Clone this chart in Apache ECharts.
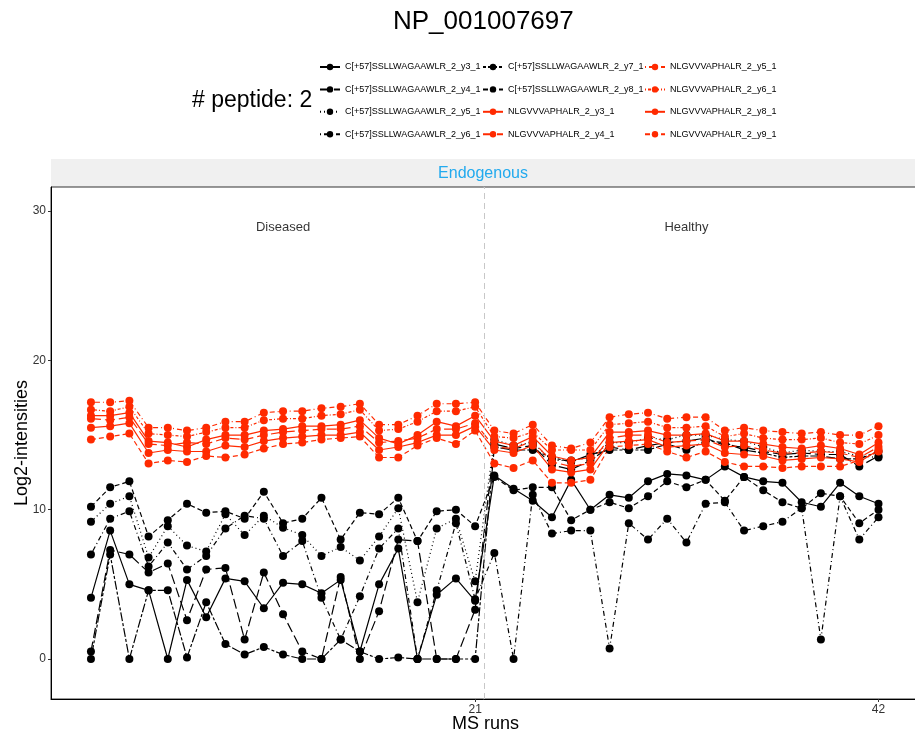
<!DOCTYPE html>
<html>
<head>
<meta charset="utf-8">
<script src="https://cdn.jsdelivr.net/npm/echarts@6/dist/echarts.min.js"></script>
<style>
  html, body { margin: 0; padding: 0; background: #fff; }
  #main { width: 915px; height: 737px; }
</style>
</head>
<body>
<div id="main"></div>
<script>
// MS runs 1..42 (21 diseased, 21 healthy)
var runs = [];
for (var i = 1; i <= 42; i++) runs.push(i);

var groups = ['Diseased', 'Healthy'];
var xTicks = [21, 42];
var yTicks = [0, 10, 20, 30];

// black: C[+57]SSLLWAGAAWLR_2 transitions
var c_y3 = [4.1, 8.6, 5.0, 4.6, 0, 5.3, 2.8, 5.4, 5.2, 3.4, 5.1, 5.0, 4.4, 5.3, 0.5, 5.0, 7.4, 0, 4.3, 5.4, 3.9,
            12.3, 11.4, 10.6, 9.5, 12.0, 10.0, 11.0, 10.8, 11.9, 12.4, 12.3, 12.0, 12.9, 12.2, 11.9, 11.8, 10.5, 10.2, 11.8, 10.9, 10.4];
var c_y4 = [0.5, 7.3, 7.0, 5.8, 6.4, 2.6, 6.0, 6.1, 1.3, 5.8, 3.0, 0.5, 0, 5.5, 0, 3.2, 8.0, 7.9, 0, 0, 3.3,
            14.4, 14.1, 14.3, 13.0, 12.7, 13.3, 14.2, 14.0, 14.3, 14.5, 14.6, 14.8, 14.3, 14.2, 13.9, 13.7, 13.8, 13.7, 13.7, 12.9, 13.6];
var c_y5 = [9.2, 10.4, 10.9, 6.8, 8.9, 7.6, 7.2, 9.7, 8.3, 9.6, 8.8, 8.3, 6.9, 7.5, 6.6, 8.2, 10.1, 3.8, 8.75, 9.4, 5.2,
            14.7, 14.3, 14.5, 13.3, 13.3, 13.5, 14.5, 14.5, 14.8, 14.7, 15.0, 15.0, 14.7, 14.6, 14.2, 13.8, 14.0, 13.9, 13.9, 13.6, 13.5];
var c_y6 = [7.0, 9.4, 9.9, 6.2, 7.8, 6.0, 6.9, 8.75, 9.6, 9.4, 6.9, 7.9, 4.1, 1.3, 4.2, 7.4, 8.75, 0, 4.6, 9.1, 4.0,
            7.1, 0, 11.0, 8.4, 8.6, 8.6, 0.7, 9.1, 8.0, 9.4, 7.8, 10.4, 10.5, 8.6, 8.9, 9.2, 10.1, 1.3, 10.9, 8.0, 9.5];
var c_y7 = [0, 7.0, 0, 4.6, 4.6, 0.1, 3.8, 1.0, 0.3, 0.8, 0.3, 0, 0, 1.3, 0.5, 0, 0.1, 0, 0, 0, 0,
            14.2, 14.0, 14.0, 13.5, 13.2, 13.7, 14.0, 14.0, 14.0, 14.4, 14.0, 14.6, 14.5, 14.0, 13.8, 13.5, 13.6, 13.6, 13.4, 13.4, 13.9];
var c_y8 = [10.2, 11.5, 11.9, 8.2, 9.3, 10.4, 9.8, 9.9, 9.4, 11.2, 9.1, 9.4, 10.8, 8.0, 9.8, 9.7, 10.8, 7.9, 9.9, 10.0, 8.9,
            12.2, 11.3, 11.5, 11.5, 9.3, 10.0, 10.5, 10.1, 10.9, 11.9, 11.5, 12.0, 10.6, 12.2, 11.3, 10.5, 10.1, 11.1, 10.9, 9.1, 10.0];

// red: NLGVVVAPHALR_2 transitions
var n_y3 = [16.3, 16.3, 16.5, 14.6, 14.5, 14.2, 14.7, 15.0, 15.0, 15.3, 15.4, 15.6, 15.6, 15.7, 16.0, 14.8, 14.4, 15.0, 15.9, 15.6, 16.3,
            14.6, 14.3, 14.9, 13.6, 13.3, 13.5, 15.2, 15.2, 15.3, 15.0, 15.0, 15.1, 14.6, 14.6, 14.4, 14.2, 14.1, 14.3, 14.1, 13.7, 14.5];
var n_y4 = [16.1, 16.0, 16.2, 14.4, 14.3, 14.5, 14.4, 14.8, 14.7, 15.0, 15.2, 15.3, 15.4, 15.4, 15.6, 14.5, 14.6, 14.8, 15.4, 15.4, 15.8,
            14.2, 14.1, 14.6, 13.2, 12.9, 13.1, 14.8, 15.0, 15.0, 14.5, 14.6, 14.7, 14.2, 14.3, 14.0, 13.8, 13.8, 13.9, 13.8, 13.5, 14.2];
var n_y5 = [17.2, 17.2, 17.3, 15.5, 15.5, 15.3, 15.5, 15.9, 15.9, 16.5, 16.6, 16.6, 16.8, 16.9, 17.1, 15.7, 15.7, 16.3, 17.1, 17.1, 17.2,
            15.3, 15.1, 15.7, 14.3, 14.1, 14.5, 16.2, 16.4, 16.5, 16.1, 16.2, 16.2, 15.3, 15.5, 15.3, 15.2, 15.1, 15.2, 15.0, 15.0, 15.6];
var n_y6 = [16.7, 16.6, 16.9, 15.1, 15.0, 14.9, 15.2, 15.5, 15.5, 16.0, 16.1, 16.1, 16.3, 16.4, 16.7, 15.3, 15.4, 15.9, 16.6, 16.6, 16.9,
            14.9, 14.8, 15.2, 14.0, 14.0, 14.0, 15.7, 15.8, 15.9, 15.5, 15.5, 15.6, 14.9, 15.1, 14.8, 14.7, 14.7, 14.8, 14.5, 14.4, 15.0];
var n_y8 = [15.5, 15.6, 15.8, 13.8, 14.0, 13.9, 13.9, 14.3, 14.2, 14.6, 14.8, 14.9, 15.0, 15.0, 15.2, 14.0, 14.2, 14.5, 15.0, 15.0, 15.6,
            14.0, 13.8, 14.3, 12.7, 12.5, 12.7, 14.5, 14.6, 14.7, 14.2, 14.3, 14.4, 13.8, 13.7, 13.6, 13.3, 13.4, 13.5, 13.4, 13.2, 14.0];
var n_y9 = [14.7, 14.9, 15.1, 13.1, 13.3, 13.2, 13.6, 13.5, 13.7, 14.1, 14.4, 14.5, 14.7, 14.8, 14.9, 13.5, 13.5, 14.3, 14.8, 14.4, 15.3,
            13.1, 12.8, 13.3, 11.8, 11.8, 12.0, 14.2, 14.3, 14.4, 13.9, 13.5, 13.9, 13.2, 12.9, 12.9, 12.8, 12.9, 12.9, 12.9, 13.3, 13.9];

var FONT = 'Liberation Sans, Arial, Helvetica, sans-serif';
var BLACK = '#000000';
var RED = '#ff2a00';

function line(name, vals, color, dash) {
    return {
        name: name,
        type: 'line',
        data: vals.map(function (v, i) { return [runs[i], v]; }),
        symbol: 'circle',
        symbolSize: 8,
        itemStyle: { color: color },
        lineStyle: { color: color, width: 1.2, type: dash },
        emphasis: { disabled: true },
        silent: true
    };
}

var series = [
    line('C[+57]SSLLWAGAAWLR_2_y3_1', c_y3, BLACK, 'solid'),
    line('C[+57]SSLLWAGAAWLR_2_y4_1', c_y4, BLACK, [10, 4]),
    line('C[+57]SSLLWAGAAWLR_2_y5_1', c_y5, BLACK, [1, 3]),
    line('C[+57]SSLLWAGAAWLR_2_y6_1', c_y6, BLACK, [1, 3, 5, 3]),
    line('C[+57]SSLLWAGAAWLR_2_y7_1', c_y7, BLACK, [3, 2, 9, 2]),
    line('C[+57]SSLLWAGAAWLR_2_y8_1', c_y8, BLACK, [5, 3]),
    line('NLGVVVAPHALR_2_y3_1', n_y3, RED, 'solid'),
    line('NLGVVVAPHALR_2_y4_1', n_y4, RED, [10, 4]),
    line('NLGVVVAPHALR_2_y5_1', n_y5, RED, [1, 3, 5, 3]),
    line('NLGVVVAPHALR_2_y6_1', n_y6, RED, [1, 2, 3, 2]),
    line('NLGVVVAPHALR_2_y8_1', n_y8, RED, 'solid'),
    line('NLGVVVAPHALR_2_y9_1', n_y9, RED, [5, 3])
];

// group divider + group labels
var half = runs.length / 2;
series[0].markLine = {
    silent: true,
    symbol: 'none',
    label: { show: false },
    lineStyle: { color: '#c8c8c8', type: [6, 4], width: 1 },
    data: [{ xAxis: half + 0.5 }]
};
series.push({
    type: 'scatter',
    silent: true,
    symbolSize: 0,
    data: [[(1 + half) / 2, 28.9], [(half + 1 + runs.length) / 2, 28.9]],
    label: {
        show: true,
        position: 'inside',
        formatter: function (p) { return groups[p.dataIndex]; },
        color: '#000',
        fontSize: 13,
        fontFamily: FONT
    }
});

function legendCol(names, left) {
    return {
        data: names,
        orient: 'vertical',
        left: left,
        top: 56,
        itemWidth: 20,
        itemHeight: 8,
        itemGap: 10.4,
        selectedMode: false,
        textStyle: { fontSize: 9, fontFamily: FONT, color: '#000', lineHeight: 12 }
    };
}

var names = series.slice(0, 12).map(function (s) { return s.name; });

var chart = echarts.init(document.getElementById('main'));
chart.setOption({
    animation: false,
    backgroundColor: '#fff',
    title: {
        text: 'NP_001007697',
        left: 388,
        top: 4,
        textStyle: { fontSize: 26, fontWeight: 'normal', fontFamily: FONT, color: '#000' }
    },
    legend: [
        legendCol(names.slice(0, 4), 314),
        legendCol(names.slice(4, 8), 477),
        legendCol(names.slice(8, 12), 639)
    ],
    graphic: [
        {
            type: 'text', left: 192, top: 89,
            style: { text: '# peptide: 2', fontSize: 23, fontFamily: FONT, fill: '#000' }
        },
        {
            type: 'rect', shape: { x: 51, y: 159, width: 870, height: 28 },
            style: { fill: '#f0f0f0' }, z: -1
        },
        {
            type: 'text', x: 483, y: 174,
            style: { text: 'Endogenous', fontSize: 16, fontFamily: FONT, fill: '#22aaee', align: 'center', verticalAlign: 'middle' }
        }
    ],
    grid: {
        left: 51, right: -5, top: 187, bottom: 38,
        outerBoundsMode: 'none',
        containLabel: false,
        show: true, borderColor: '#333', borderWidth: 1, backgroundColor: 'transparent'
    },
    xAxis: {
        type: 'value',
        min: -1.08, max: 44.16,
        name: 'MS runs',
        nameLocation: 'middle',
        nameGap: 16,
        nameMoveOverlap: false,
        nameTextStyle: { fontSize: 18, fontFamily: FONT, color: '#000' },
        axisLine: { onZero: false, lineStyle: { color: '#000' } },
        axisTick: { length: 3, lineStyle: { color: '#333' }, customValues: xTicks },
        axisLabel: { fontSize: 12, fontFamily: FONT, color: '#333', margin: 5, customValues: xTicks },
        splitLine: { show: false }
    },
    yAxis: {
        type: 'value',
        min: -2.68, max: 31.62,
        name: 'Log2-intensities',
        nameLocation: 'middle',
        nameGap: 20,
        nameMoveOverlap: false,
        nameTextStyle: { fontSize: 18, fontFamily: FONT, color: '#000' },
        axisLine: { show: true, onZero: false, lineStyle: { color: '#000' } },
        axisTick: { show: true, length: 3, lineStyle: { color: '#333' }, customValues: yTicks },
        axisLabel: { fontSize: 12, fontFamily: FONT, color: '#333', margin: 5, customValues: yTicks },
        splitLine: { show: false }
    },
    series: series
});
</script>
</body>
</html>
